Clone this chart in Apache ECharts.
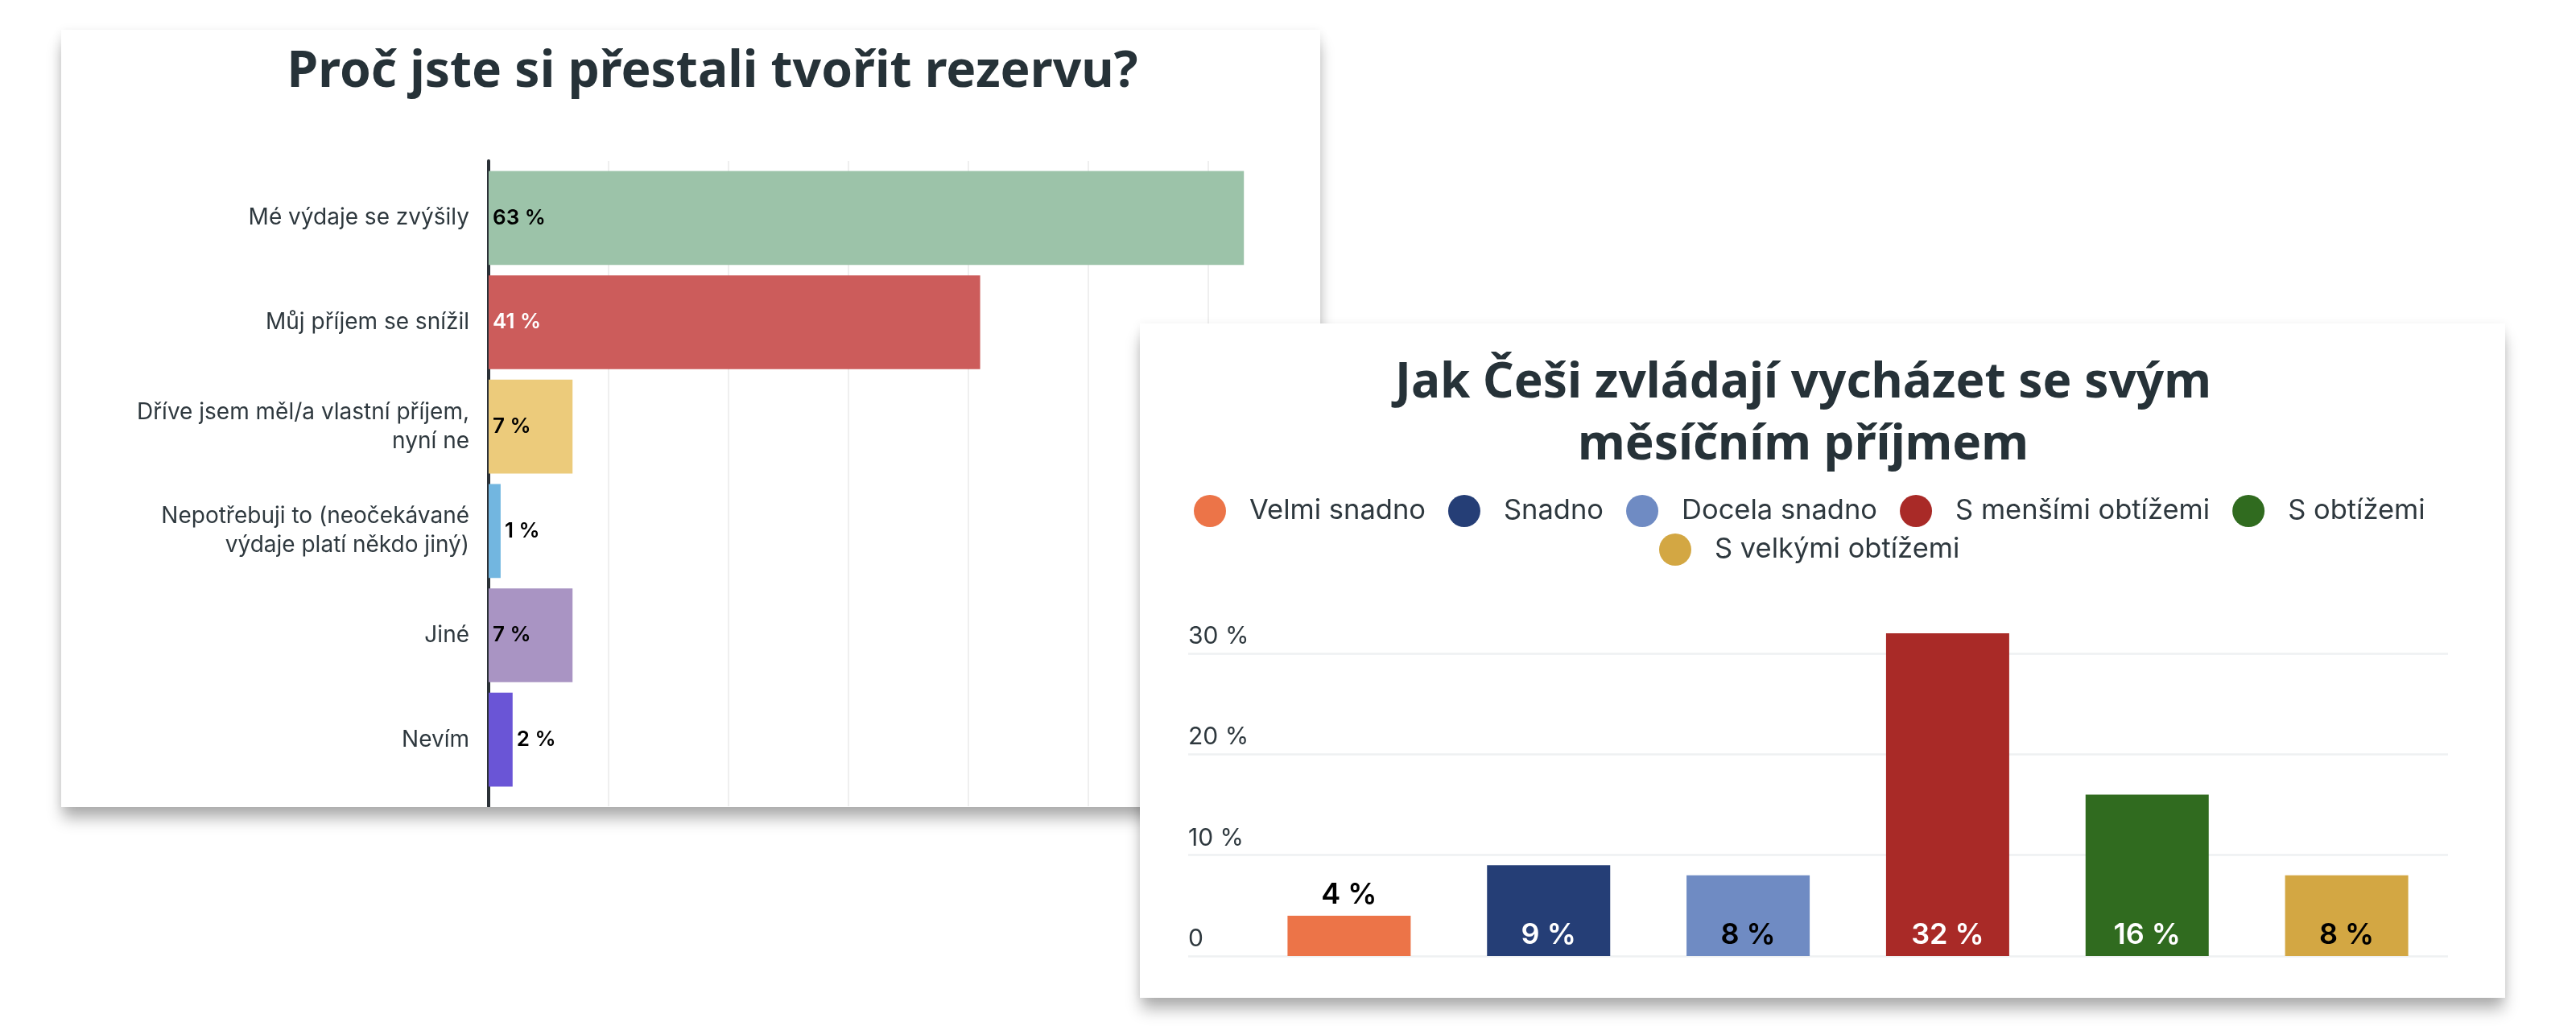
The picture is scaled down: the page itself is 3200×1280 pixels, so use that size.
<!DOCTYPE html>
<html><head><meta charset="utf-8">
<script src="https://cdn.jsdelivr.net/npm/echarts@6/dist/echarts.min.js"></script>
<style>
html,body{margin:0;padding:0;background:#fff;width:3200px;height:1280px;overflow:hidden;position:relative}
.card{position:absolute;background:#fff;box-shadow:0 16px 18px -2px rgba(0,0,0,0.30),0 2px 12px rgba(0,0,0,0.08);}
#left{left:76px;top:37px;width:1564px;height:966px;z-index:1}
#right{left:1416px;top:402px;width:1696px;height:838px;z-index:2}
</style></head>
<body>
<div id="left" class="card"></div>
<div id="right" class="card"></div>
<script>
// ---- data: left chart ----
const leftTitle = 'Proč jste si přestali tvořit rezervu?';
const leftCategories = ['Mé výdaje se zvýšily','Můj příjem se snížil','Dříve jsem měl/a vlastní příjem,\nnyní ne','Nepotřebuji to (neočekávané\nvýdaje platí někdo jiný)','Jiné','Nevím'];
const leftValues = [63, 41, 7, 1, 7, 2];
const leftColors = ['#9cc3a9','#cc5c5b','#eccb7b','#72b6e0','#a994c3','#6a55d6'];
const leftLabelColors = ['#000','#fff','#000','#000','#000','#000'];
const leftLabelPos = ['insideLeft','insideLeft','insideLeft','right','insideLeft','right'];

// ---- data: right chart ----
const rightTitle1 = 'Jak Češi zvládají vycházet se svým';
const rightTitle2 = 'měsíčním příjmem';
const rightCategories = ['Velmi snadno','Snadno','Docela snadno','S menšími obtížemi','S obtížemi','S velkými obtížemi'];
const rightValues = [4, 9, 8, 32, 16, 8];
const rightColors = ['#ec7448','#253e76','#6f8bc3','#a92a27','#306b1f','#d3a743'];
const rightLabelColors = ['#000','#fff','#000','#fff','#fff','#000'];
const rightLabelPos = ['top','insideBottom','insideBottom','insideBottom','insideBottom','insideBottom'];
const rightTicks = [0, 10, 20, 30];

const TXT = '#2e383e';
const TITLE = '#263238';
const TITLE_FONT = '"Noto Sans"';
const BODY_FONT = 'Inter';

const ctx = document.createElement('canvas').getContext('2d');
function textW(text, weight, size, family) {
  ctx.font = weight + ' ' + size + 'px ' + family;
  return ctx.measureText(text).width;
}
function fitSize(text, weight, family, target) {
  return 100 * target / textW(text, weight, 100, family);
}

const leftTitleSize = fitSize(leftTitle, 'bold', TITLE_FONT, 1057);
const rightTitleSize = fitSize(rightTitle1, 'bold', TITLE_FONT, 1014);

const left = echarts.init(document.getElementById('left'));
left.setOption({
  animation: false,
  title: {text: leftTitle, left: 804, top: 17, textAlign: 'center',
    textStyle: {fontSize: leftTitleSize, fontWeight: 'bold', fontFamily: TITLE_FONT, color: TITLE}},
  grid: [{left: 531, top: 163, width: 968, height: 802}, {left: 531, top: 169, width: 968, height: 778}],
  xAxis: [
    {gridIndex: 0, type: 'value', min: 0, max: 65, interval: 10,
     axisLabel: {show: false}, axisLine: {show: false}, axisTick: {show: false},
     splitLine: {show: true, showMaxLine: false, lineStyle: {color: '#efefef', width: 2}}},
    {gridIndex: 1, type: 'value', min: 0, max: 65, interval: 10, show: false}
  ],
  yAxis: [
    {gridIndex: 0, type: 'category', data: [''], axisLine: {show: true, lineStyle: {color: '#2b3137', width: 4}},
     axisTick: {show: false}, axisLabel: {show: false}},
    {gridIndex: 1, type: 'category', inverse: true, data: leftCategories,
     axisLine: {show: false}, axisTick: {show: false},
     axisLabel: {margin: 24, fontSize: 28, lineHeight: 36, color: TXT, fontFamily: BODY_FONT, align: 'right'}}
  ],
  series: [{
    type: 'bar', xAxisIndex: 1, yAxisIndex: 1, barCategoryGap: '10%',
    data: leftValues.map((v, i) => ({value: v, itemStyle: {color: leftColors[i]},
      label: {position: leftLabelPos[i], color: leftLabelColors[i]}})),
    label: {show: true, formatter: p => p.value + ' %', fontSize: 26, fontWeight: 600, fontFamily: BODY_FONT, distance: 5}
  }]
});

// legend layout: rows centred on x = 832 inside the right card
const LEG_FS = 34.5, LEG_ICON = 40, LEG_PAD = 24, LEG_GAP = 28, LEG_CX = 832;
function legendLeft(names) {
  let w = 0;
  names.forEach((n, i) => { w += LEG_ICON + 5 + LEG_PAD + textW(n, 'normal', LEG_FS, BODY_FONT) + (i ? LEG_GAP : 0); });
  return Math.round(LEG_CX - w / 2);
}
const row1 = rightCategories.slice(0, 5), row2 = rightCategories.slice(5);
const legendBase = {padding: 0, icon: 'circle', itemWidth: LEG_ICON, itemHeight: LEG_ICON, itemGap: LEG_GAP,
  textStyle: {fontSize: LEG_FS, color: TXT, fontFamily: BODY_FONT, padding: [0, 0, 0, LEG_PAD]}};

const right = echarts.init(document.getElementById('right'));
right.setOption({
  animation: false,
  title: {text: rightTitle1 + '\n' + rightTitle2, left: 819, top: 31, textAlign: 'center',
    textStyle: {fontSize: rightTitleSize, lineHeight: 77, fontWeight: 'bold', fontFamily: TITLE_FONT, color: TITLE}},
  legend: [
    Object.assign({}, legendBase, {data: row1, top: 213, left: legendLeft(row1)}),
    Object.assign({}, legendBase, {data: row2, top: 261, left: legendLeft(row2)})
  ],
  grid: [{left: 60, top: 360, width: 1565, height: 426}, {left: 136, top: 360, width: 1487, height: 426}],
  xAxis: [
    {gridIndex: 0, type: 'category', data: [''], show: false},
    {gridIndex: 1, type: 'category', data: rightCategories, show: false}
  ],
  yAxis: [
    {gridIndex: 0, type: 'value', min: 0, max: 34, interval: 10,
     axisLine: {show: false}, axisTick: {show: false},
     splitLine: {show: true, showMaxLine: false, lineStyle: {color: '#eef0f2', width: 2.5}},
     axisLabel: {inside: true, margin: 0, showMaxLabel: false, verticalAlign: 'bottom', fontSize: 30,
       color: TXT, fontFamily: BODY_FONT, padding: [0, 0, 6, 0],
       formatter: v => rightTicks.indexOf(v) < 0 ? '' : (v === 0 ? '0' : v + ' %')}},
    {gridIndex: 1, type: 'value', min: 0, max: 34, show: false}
  ],
  series: rightCategories.map((name, i) => ({
    name, type: 'bar', xAxisIndex: 1, yAxisIndex: 1, stack: 'all', barWidth: 153,
    data: rightCategories.map((_, j) => j === i ? rightValues[i] : '-'),
    itemStyle: {color: rightColors[i]},
    label: {show: true, position: rightLabelPos[i], distance: 8, color: rightLabelColors[i],
      fontSize: 36, fontWeight: 600, fontFamily: BODY_FONT, formatter: p => p.value + ' %'}
  }))
});
</script>
</body></html>
